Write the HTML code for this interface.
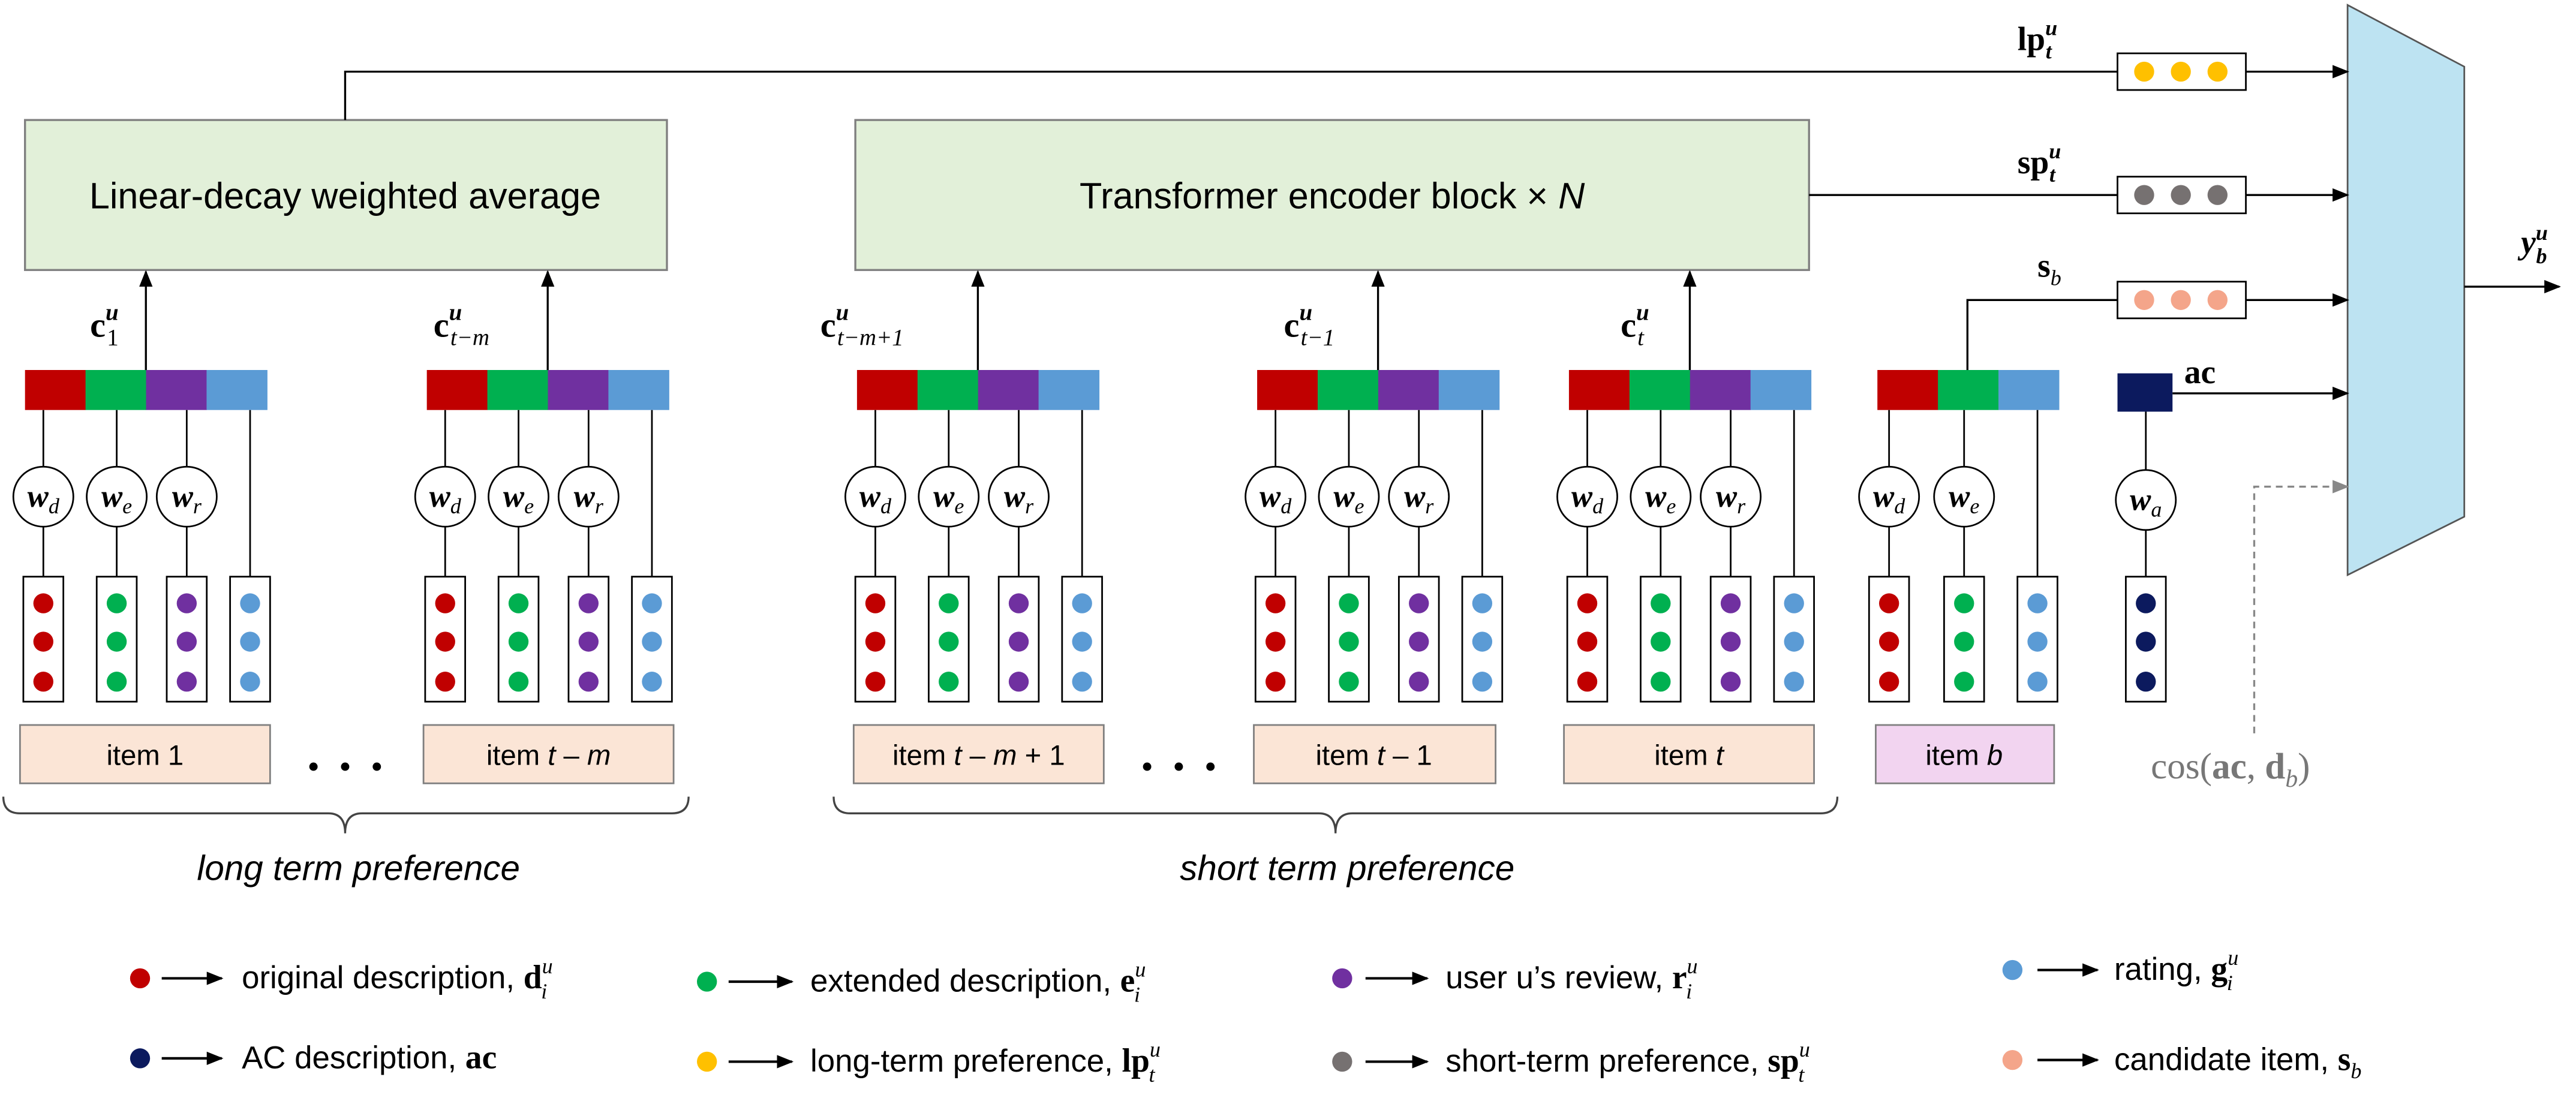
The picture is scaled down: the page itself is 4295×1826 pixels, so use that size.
<!DOCTYPE html>
<html><head><meta charset="utf-8"><style>
html,body{margin:0;padding:0;background:#fff;}
svg{display:block;}
.sans{font-family:"Liberation Sans",sans-serif;}
.ser{font-family:"Liberation Serif",serif;}
.w{font-family:"Liberation Serif",serif;font-size:19px;font-weight:bold;font-style:italic;}
</style></head><body>
<svg width="4295" height="1826" viewBox="0 0 1545 657" preserveAspectRatio="none" xmlns="http://www.w3.org/2000/svg">
<defs>
<marker id="ar" markerWidth="10" markerHeight="8" refX="9" refY="4" orient="auto" markerUnits="userSpaceOnUse"><path d="M0,0 L10,4 L0,8 z" fill="#000"/></marker>
<marker id="arg" markerWidth="10" markerHeight="8" refX="9" refY="4" orient="auto" markerUnits="userSpaceOnUse"><path d="M0,0 L10,4 L0,8 z" fill="#888"/></marker>
<g id="segs">
<rect x="0" y="222" width="36.5" height="24" fill="#c00000"/>
<rect x="36.3" y="222" width="36.5" height="24" fill="#00b050"/>
<rect x="72.6" y="222" width="36.5" height="24" fill="#7030a0"/>
<rect x="108.9" y="222" width="36.5" height="24" fill="#5b9bd5"/>
<line x1="72.5" y1="222" x2="72.5" y2="163" stroke="#000" stroke-width="1.2" marker-end="url(#ar)"/>
</g>
<g id="lines" stroke="#000" stroke-width="1" fill="#fff">
<line x1="11" y1="246" x2="11" y2="280"/><circle cx="11" cy="298" r="18"/><line x1="11" y1="316" x2="11" y2="346"/>
<line x1="55" y1="246" x2="55" y2="280"/><circle cx="55" cy="298" r="18"/><line x1="55" y1="316" x2="55" y2="346"/>
<line x1="97" y1="246" x2="97" y2="280"/><circle cx="97" cy="298" r="18"/><line x1="97" y1="316" x2="97" y2="346"/>
<line x1="135" y1="246" x2="135" y2="346"/>
<rect x="-1" y="346" width="24" height="75"/>
<rect x="43" y="346" width="24" height="75"/>
<rect x="85" y="346" width="24" height="75"/>
<rect x="123" y="346" width="24" height="75"/>
</g>
<g id="dots" stroke="none">
<circle cx="11" cy="362" r="6" fill="#c00000"/><circle cx="11" cy="385" r="6" fill="#c00000"/><circle cx="11" cy="409" r="6" fill="#c00000"/>
<circle cx="55" cy="362" r="6" fill="#00b050"/><circle cx="55" cy="385" r="6" fill="#00b050"/><circle cx="55" cy="409" r="6" fill="#00b050"/>
<circle cx="97" cy="362" r="6" fill="#7030a0"/><circle cx="97" cy="385" r="6" fill="#7030a0"/><circle cx="97" cy="409" r="6" fill="#7030a0"/>
<circle cx="135" cy="362" r="6" fill="#5b9bd5"/><circle cx="135" cy="385" r="6" fill="#5b9bd5"/><circle cx="135" cy="409" r="6" fill="#5b9bd5"/>
</g>
</defs>
<rect width="1545" height="657" fill="#fff"/>

<rect x="15" y="72" width="385" height="90" fill="#e2f0d9" stroke="#7f7f7f" stroke-width="1.2"/>
<text x="207" y="125" class="sans" font-size="22" text-anchor="middle">Linear-decay weighted average</text>
<rect x="513" y="72" width="572" height="90" fill="#e2f0d9" stroke="#7f7f7f" stroke-width="1.2"/>
<text x="799" y="125" class="sans" font-size="22" text-anchor="middle">Transformer encoder block × <tspan font-style="italic">N</tspan></text>

<polygon points="1408,3 1478,40 1478,310 1408,345" fill="#bde3f2" stroke="#555" stroke-width="1"/>
<line x1="1478" y1="172" x2="1535" y2="172" stroke="#000" stroke-width="1.2" marker-end="url(#ar)"/>
<text x="1512" y="152" class="ser" font-size="20" font-weight="bold" font-style="italic">y<tspan font-size="13" dy="-8">u</tspan><tspan font-size="13" dx="-7" dy="14">b</tspan></text>

<polyline points="207,72 207,43 1408,43" fill="none" stroke="#000" stroke-width="1.2" marker-end="url(#ar)"/>
<text x="1210" y="30" class="ser" font-size="20" font-weight="bold">lp<tspan font-size="13" font-style="italic" dy="-9">u</tspan><tspan font-size="13" font-style="italic" dx="-7" dy="14">t</tspan></text>
<rect x="1270" y="32" width="77" height="22" fill="#fff" stroke="#000"/>
<circle cx="1286" cy="43" r="6" fill="#ffc000"/><circle cx="1308" cy="43" r="6" fill="#ffc000"/><circle cx="1330" cy="43" r="6" fill="#ffc000"/>
<line x1="1085" y1="117" x2="1408" y2="117" stroke="#000" stroke-width="1.2" marker-end="url(#ar)"/>
<text x="1210" y="104" class="ser" font-size="20" font-weight="bold">sp<tspan font-size="13" font-style="italic" dy="-9">u</tspan><tspan font-size="13" font-style="italic" dx="-7" dy="14">t</tspan></text>
<rect x="1270" y="106" width="77" height="22" fill="#fff" stroke="#000"/>
<circle cx="1286" cy="117" r="6" fill="#767171"/><circle cx="1308" cy="117" r="6" fill="#767171"/><circle cx="1330" cy="117" r="6" fill="#767171"/>
<polyline points="1180,222 1180,180 1408,180" fill="none" stroke="#000" stroke-width="1.2" marker-end="url(#ar)"/>
<text x="1222" y="166" class="ser" font-size="20" font-weight="bold">s<tspan font-size="13" font-style="italic" font-weight="normal" dy="5">b</tspan></text>
<rect x="1270" y="169" width="77" height="22" fill="#fff" stroke="#000"/>
<circle cx="1286" cy="180" r="6" fill="#f4a58a"/><circle cx="1308" cy="180" r="6" fill="#f4a58a"/><circle cx="1330" cy="180" r="6" fill="#f4a58a"/>
<rect x="1270" y="224" width="33" height="23" fill="#0c1a5e"/>
<line x1="1303" y1="236" x2="1408" y2="236" stroke="#000" stroke-width="1.2" marker-end="url(#ar)"/>
<text x="1310" y="230" class="ser" font-size="20" font-weight="bold">ac</text>
<line x1="1287" y1="247" x2="1287" y2="282" stroke="#000"/>
<circle cx="1287" cy="300" r="18" fill="#fff" stroke="#000"/>
<text x="1287" y="306" class="w" text-anchor="middle">w<tspan font-size="13" font-weight="normal" dy="4">a</tspan></text>
<line x1="1287" y1="318" x2="1287" y2="346" stroke="#000"/>
<rect x="1275" y="346" width="24" height="75" fill="#fff" stroke="#000"/>
<circle cx="1287" cy="362" r="6" fill="#0c1a5e"/><circle cx="1287" cy="385" r="6" fill="#0c1a5e"/><circle cx="1287" cy="409" r="6" fill="#0c1a5e"/>
<polyline points="1352,440 1352,292 1408,292" fill="none" stroke="#888" stroke-width="1.2" stroke-dasharray="4,3" marker-end="url(#arg)"/>
<text x="1290" y="467" class="ser" font-size="22" fill="#777">cos(<tspan font-weight="bold">ac</tspan>, <tspan font-weight="bold">d</tspan><tspan font-style="italic" font-size="15" dy="5">b</tspan><tspan dy="-5">)</tspan></text>

<g transform="translate(15,0)"><use href="#segs"/><use href="#lines"/><use href="#dots"/>
<text x="11" y="304" class="w" text-anchor="middle">w<tspan font-size="13" font-weight="normal" dy="4">d</tspan></text>
<text x="55" y="304" class="w" text-anchor="middle">w<tspan font-size="13" font-weight="normal" dy="4">e</tspan></text>
<text x="97" y="304" class="w" text-anchor="middle">w<tspan font-size="13" font-weight="normal" dy="4">r</tspan></text></g>
<g transform="translate(256,0)"><use href="#segs"/><use href="#lines"/><use href="#dots"/>
<text x="11" y="304" class="w" text-anchor="middle">w<tspan font-size="13" font-weight="normal" dy="4">d</tspan></text>
<text x="55" y="304" class="w" text-anchor="middle">w<tspan font-size="13" font-weight="normal" dy="4">e</tspan></text>
<text x="97" y="304" class="w" text-anchor="middle">w<tspan font-size="13" font-weight="normal" dy="4">r</tspan></text></g>
<g transform="translate(514,0)"><use href="#segs"/><use href="#lines"/><use href="#dots"/>
<text x="11" y="304" class="w" text-anchor="middle">w<tspan font-size="13" font-weight="normal" dy="4">d</tspan></text>
<text x="55" y="304" class="w" text-anchor="middle">w<tspan font-size="13" font-weight="normal" dy="4">e</tspan></text>
<text x="97" y="304" class="w" text-anchor="middle">w<tspan font-size="13" font-weight="normal" dy="4">r</tspan></text></g>
<g transform="translate(754,0)"><use href="#segs"/><use href="#lines"/><use href="#dots"/>
<text x="11" y="304" class="w" text-anchor="middle">w<tspan font-size="13" font-weight="normal" dy="4">d</tspan></text>
<text x="55" y="304" class="w" text-anchor="middle">w<tspan font-size="13" font-weight="normal" dy="4">e</tspan></text>
<text x="97" y="304" class="w" text-anchor="middle">w<tspan font-size="13" font-weight="normal" dy="4">r</tspan></text></g>
<g transform="translate(941,0)"><use href="#segs"/><use href="#lines"/><use href="#dots"/>
<text x="11" y="304" class="w" text-anchor="middle">w<tspan font-size="13" font-weight="normal" dy="4">d</tspan></text>
<text x="55" y="304" class="w" text-anchor="middle">w<tspan font-size="13" font-weight="normal" dy="4">e</tspan></text>
<text x="97" y="304" class="w" text-anchor="middle">w<tspan font-size="13" font-weight="normal" dy="4">r</tspan></text></g>

<g transform="translate(1126,0)">
<rect x="0" y="222" width="36.5" height="24" fill="#c00000"/>
<rect x="36.3" y="222" width="36.5" height="24" fill="#00b050"/>
<rect x="72.6" y="222" width="36.5" height="24" fill="#5b9bd5"/>
<g stroke="#000" fill="#fff">
<line x1="7" y1="246" x2="7" y2="280"/><circle cx="7" cy="298" r="18"/><line x1="7" y1="316" x2="7" y2="346"/>
<line x1="52" y1="246" x2="52" y2="280"/><circle cx="52" cy="298" r="18"/><line x1="52" y1="316" x2="52" y2="346"/>
<line x1="96" y1="246" x2="96" y2="346"/>
<rect x="-5" y="346" width="24" height="75"/><rect x="40" y="346" width="24" height="75"/><rect x="84" y="346" width="24" height="75"/>
</g>
<circle cx="7" cy="362" r="6" fill="#c00000"/><circle cx="7" cy="385" r="6" fill="#c00000"/><circle cx="7" cy="409" r="6" fill="#c00000"/>
<circle cx="52" cy="362" r="6" fill="#00b050"/><circle cx="52" cy="385" r="6" fill="#00b050"/><circle cx="52" cy="409" r="6" fill="#00b050"/>
<circle cx="96" cy="362" r="6" fill="#5b9bd5"/><circle cx="96" cy="385" r="6" fill="#5b9bd5"/><circle cx="96" cy="409" r="6" fill="#5b9bd5"/>
<text x="7" y="304" class="w" text-anchor="middle">w<tspan font-size="13" font-weight="normal" dy="4">d</tspan></text>
<text x="52" y="304" class="w" text-anchor="middle">w<tspan font-size="13" font-weight="normal" dy="4">e</tspan></text>
</g>

<g class="ser" font-size="21" font-weight="bold">
<text x="54" y="202">c<tspan font-size="14" font-style="italic" dy="-10">u</tspan><tspan font-size="14" font-weight="normal" dx="-7" dy="15">1</tspan></text>
<text x="260" y="202">c<tspan font-size="14" font-style="italic" dy="-10">u</tspan><tspan font-size="14" font-style="italic" font-weight="normal" dx="-7" dy="15">t−m</tspan></text>
<text x="492" y="202">c<tspan font-size="14" font-style="italic" dy="-10">u</tspan><tspan font-size="14" font-style="italic" font-weight="normal" dx="-7" dy="15">t−m+1</tspan></text>
<text x="770" y="202">c<tspan font-size="14" font-style="italic" dy="-10">u</tspan><tspan font-size="14" font-style="italic" font-weight="normal" dx="-7" dy="15">t−1</tspan></text>
<text x="972" y="202">c<tspan font-size="14" font-style="italic" dy="-10">u</tspan><tspan font-size="14" font-style="italic" font-weight="normal" dx="-7" dy="15">t</tspan></text>
</g>

<g class="sans" font-size="17" text-anchor="middle">
<rect x="12" y="435" width="150" height="35" fill="#fbe5d6" stroke="#7f7f7f"/><text x="87" y="459">item 1</text>
<rect x="254" y="435" width="150" height="35" fill="#fbe5d6" stroke="#7f7f7f"/><text x="329" y="459">item <tspan font-style="italic">t</tspan> – <tspan font-style="italic">m</tspan></text>
<rect x="512" y="435" width="150" height="35" fill="#fbe5d6" stroke="#7f7f7f"/><text x="587" y="459">item <tspan font-style="italic">t</tspan> – <tspan font-style="italic">m</tspan> + 1</text>
<rect x="752" y="435" width="145" height="35" fill="#fbe5d6" stroke="#7f7f7f"/><text x="824" y="459">item <tspan font-style="italic">t</tspan> – 1</text>
<rect x="938" y="435" width="150" height="35" fill="#fbe5d6" stroke="#7f7f7f"/><text x="1013" y="459">item <tspan font-style="italic">t</tspan></text>
<rect x="1125" y="435" width="107" height="35" fill="#f2d4f0" stroke="#7f7f7f"/><text x="1178" y="459">item <tspan font-style="italic">b</tspan></text>
</g>
<g fill="#000"><circle cx="188" cy="460" r="2.5"/><circle cx="207" cy="460" r="2.5"/><circle cx="226" cy="460" r="2.5"/>
<circle cx="688" cy="460" r="2.5"/><circle cx="707" cy="460" r="2.5"/><circle cx="726" cy="460" r="2.5"/></g>

<path d="M2,478 Q2,488 12,488 L197,488 Q207,488 207,500 Q207,488 217,488 L403,488 Q413,488 413,478" fill="none" stroke="#444" stroke-width="1.2"/>
<path d="M500,478 Q500,488 510,488 L791,488 Q801,488 801,500 Q801,488 811,488 L1092,488 Q1102,488 1102,478" fill="none" stroke="#444" stroke-width="1.2"/>
<text x="215" y="528" class="sans" font-size="21" font-style="italic" text-anchor="middle">long term preference</text>
<text x="808" y="528" class="sans" font-size="21" font-style="italic" text-anchor="middle">short term preference</text>

<g class="sans" font-size="19">
<circle cx="84" cy="587" r="6" fill="#c00000"/><line x1="97" y1="587" x2="133" y2="587" stroke="#000" stroke-width="1.5" marker-end="url(#ar)"/>
<text x="145" y="593">original description, <tspan class="ser" font-weight="bold" font-size="20">d</tspan><tspan class="ser" font-style="italic" font-size="13" dy="-9">u</tspan><tspan class="ser" font-style="italic" font-size="13" dx="-7" dy="15">i</tspan></text>
<circle cx="424" cy="589" r="6" fill="#00b050"/><line x1="437" y1="589" x2="475" y2="589" stroke="#000" stroke-width="1.5" marker-end="url(#ar)"/>
<text x="486" y="595">extended description, <tspan class="ser" font-weight="bold" font-size="20">e</tspan><tspan class="ser" font-style="italic" font-size="13" dy="-9">u</tspan><tspan class="ser" font-style="italic" font-size="13" dx="-7" dy="15">i</tspan></text>
<circle cx="805" cy="587" r="6" fill="#7030a0"/><line x1="819" y1="587" x2="856" y2="587" stroke="#000" stroke-width="1.5" marker-end="url(#ar)"/>
<text x="867" y="593">user u’s review, <tspan class="ser" font-weight="bold" font-size="20">r</tspan><tspan class="ser" font-style="italic" font-size="13" dy="-9">u</tspan><tspan class="ser" font-style="italic" font-size="13" dx="-7" dy="15">i</tspan></text>
<circle cx="1207" cy="582" r="6" fill="#5b9bd5"/><line x1="1222" y1="582" x2="1258" y2="582" stroke="#000" stroke-width="1.5" marker-end="url(#ar)"/>
<text x="1268" y="588">rating, <tspan class="ser" font-weight="bold" font-size="20">g</tspan><tspan class="ser" font-style="italic" font-size="13" dy="-9">u</tspan><tspan class="ser" font-style="italic" font-size="13" dx="-7" dy="15">i</tspan></text>

<circle cx="84" cy="635" r="6" fill="#0c1a5e"/><line x1="97" y1="635" x2="133" y2="635" stroke="#000" stroke-width="1.5" marker-end="url(#ar)"/>
<text x="145" y="641">AC description, <tspan class="ser" font-weight="bold" font-size="20">ac</tspan></text>
<circle cx="424" cy="637" r="6" fill="#ffc000"/><line x1="437" y1="637" x2="475" y2="637" stroke="#000" stroke-width="1.5" marker-end="url(#ar)"/>
<text x="486" y="643">long-term preference, <tspan class="ser" font-weight="bold" font-size="20">lp</tspan><tspan class="ser" font-style="italic" font-size="13" dy="-9">u</tspan><tspan class="ser" font-style="italic" font-size="13" dx="-7" dy="15">t</tspan></text>
<circle cx="805" cy="637" r="6" fill="#767171"/><line x1="819" y1="637" x2="856" y2="637" stroke="#000" stroke-width="1.5" marker-end="url(#ar)"/>
<text x="867" y="643">short-term preference, <tspan class="ser" font-weight="bold" font-size="20">sp</tspan><tspan class="ser" font-style="italic" font-size="13" dy="-9">u</tspan><tspan class="ser" font-style="italic" font-size="13" dx="-7" dy="15">t</tspan></text>
<circle cx="1207" cy="636" r="6" fill="#f4a58a"/><line x1="1222" y1="636" x2="1258" y2="636" stroke="#000" stroke-width="1.5" marker-end="url(#ar)"/>
<text x="1268" y="642">candidate item, <tspan class="ser" font-weight="bold" font-size="20">s</tspan><tspan class="ser" font-style="italic" font-size="13" dy="5">b</tspan></text>
</g>
</svg>
</body></html>
